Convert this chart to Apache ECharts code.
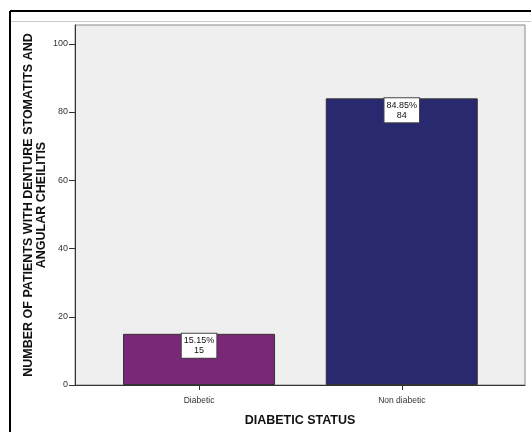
<!DOCTYPE html>
<html><head><meta charset="utf-8">
<script src="https://cdn.jsdelivr.net/npm/echarts@6/dist/echarts.min.js"></script>
<style>html,body{margin:0;padding:0;background:#fff}#c{width:531px;height:432px}</style>
</head><body><div id="c"></div>
<script>
const categories = ['Diabetic', 'Non diabetic'];
const counts = [15, 84];
const percents = ['15.15%', '84.85%'];
const barColors = ['#7A2777', '#28296F'];
const yTicks = [0, 20, 40, 60, 80, 100];
const yTitle = 'NUMBER OF PATIENTS WITH DENTURE STOMATITS AND\nANGULAR CHEILITIS';
const xTitle = 'DIABETIC STATUS';

const FONT = '"Liberation Sans", Arial, sans-serif';
const chart = echarts.init(document.getElementById('c'), null, {renderer: 'canvas'});
chart.setOption({
  animation: false,
  backgroundColor: '#fff',
  graphic: [
    {type: 'line', shape: {x1: 10, y1: 11, x2: 531, y2: 11}, style: {stroke: '#000', lineWidth: 2}},
    {type: 'line', shape: {x1: 10, y1: 11, x2: 10, y2: 432}, style: {stroke: '#000', lineWidth: 2}},
    {type: 'line', shape: {x1: 11, y1: 21.5, x2: 531, y2: 21.5}, style: {stroke: '#c8c8c8', lineWidth: 1}}
  ],
  grid: {left: 75, top: 25, right: 6, bottom: 42, show: true, backgroundColor: '#EFEFEF', borderColor: '#8a8a8a', borderWidth: 1},
  xAxis: {
    type: 'value', min: -0.612, max: 1.608,
    name: xTitle, nameLocation: 'middle', nameGap: 29, nameMoveOverlap: false,
    nameTextStyle: {fontFamily: FONT, fontWeight: 'bold', fontSize: 12.5, color: '#111'},
    axisLine: {show: true, onZero: false, lineStyle: {color: '#333', width: 1}},
    axisTick: {show: true, inside: false, customValues: [0, 1], length: 5, lineStyle: {color: '#333'}},
    axisLabel: {customValues: [0, 1], formatter: v => categories[Math.round(v)], fontFamily: FONT, fontSize: 8.5, color: '#333', margin: 11},
    splitLine: {show: false}
  },
  yAxis: {
    type: 'value', min: 0, max: 105.5,
    name: yTitle, nameLocation: 'middle', nameGap: 27, nameRotate: 90, nameMoveOverlap: false,
    nameTextStyle: {fontFamily: FONT, fontWeight: 'bold', fontSize: 12.5, color: '#111', lineHeight: 13},
    axisLine: {show: true, onZero: false, lineStyle: {color: '#333', width: 1}},
    axisTick: {show: true, inside: false, customValues: yTicks, length: 6, lineStyle: {color: '#333'}},
    axisLabel: {customValues: yTicks, fontFamily: FONT, fontSize: 9, color: '#333', margin: 7},
    splitLine: {show: false}
  },
  series: [{
    type: 'bar', barWidth: 152,
    data: counts.map((c, i) => ({value: [i, c], itemStyle: {color: barColors[i]}})),
    itemStyle: {borderColor: '#333', borderWidth: 1},
    label: {
      show: true, position: 'insideTop', distance: 0,
      formatter: p => percents[p.dataIndex] + '\n' + counts[p.dataIndex],
      fontFamily: FONT, fontSize: 9, color: '#111', lineHeight: 10,
      backgroundColor: '#fff', borderColor: '#444', borderWidth: 1, padding: [2, 2]
    }
  }]
});
</script></body></html>
